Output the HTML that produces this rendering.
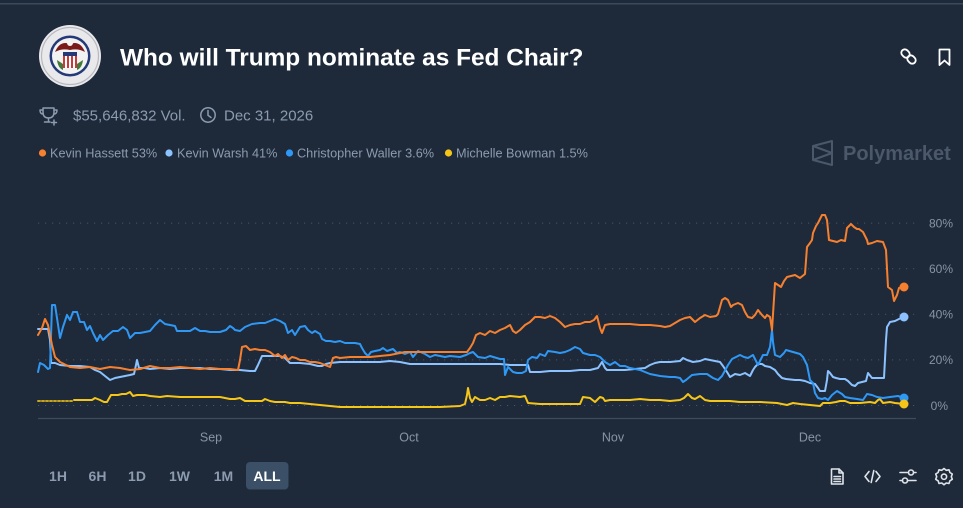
<!DOCTYPE html>
<html><head><meta charset="utf-8"><style>
html,body{margin:0;padding:0;background:#1e2a3a;}
body{width:963px;height:508px;overflow:hidden;position:relative;font-family:"Liberation Sans",Arial,sans-serif;}
svg{position:absolute;left:0;top:0;}
</style></head><body>
<svg width="963" height="508" viewBox="0 0 963 508" xmlns="http://www.w3.org/2000/svg" font-family="Liberation Sans, Arial, sans-serif">
<rect x="0" y="0" width="963" height="508" fill="#1e2a3a"/>
<rect x="0" y="3" width="963" height="1.5" fill="#3a4a5c"/>

<!-- logo -->
<g>
<circle cx="70" cy="56" r="31" fill="#e9e9ec"/>
<circle cx="70" cy="56" r="28.5" fill="none" stroke="#b8b9c0" stroke-width="1.2"/>
<circle cx="70" cy="56" r="20.5" fill="#243a78"/>
<circle cx="70" cy="56" r="18" fill="#f2f2f2"/>
<path d="M55 52 Q60 40 70 44 Q80 40 85 52 Q78 48 70 50 Q62 48 55 52Z" fill="#7a1a1a"/>
<circle cx="70" cy="43" r="3" fill="#f4f4f4"/>
<rect x="63" y="52" width="14" height="4" fill="#243a78"/>
<rect x="63" y="56" width="14" height="12" fill="#c83a3a"/>
<rect x="65" y="56" width="2" height="12" fill="#fff"/>
<rect x="69" y="56" width="2" height="12" fill="#fff"/>
<rect x="73" y="56" width="2" height="12" fill="#fff"/>
<path d="M57 60 Q58 68 63 70 L63 64Z" fill="#3f7a3a"/>
<path d="M83 60 Q82 68 77 70 L77 64Z" fill="#3f7a3a"/>
</g>

<text x="120" y="65.5" font-size="24.4" font-weight="bold" fill="#ffffff">Who will Trump nominate as Fed Chair?</text>

<!-- link icon -->
<g fill="none" stroke="#ffffff" stroke-width="1.8" stroke-linecap="round">
<rect x="901" y="50" width="9" height="7" rx="3.5" transform="rotate(45 905.5 53.5)"/>
<rect x="907" y="56" width="9" height="7" rx="3.5" transform="rotate(45 911.5 59.5)"/>
</g>
<!-- bookmark -->
<path d="M939.5 49.5 H949.5 V65 L944.5 60.5 L939.5 65 Z" fill="none" stroke="#ffffff" stroke-width="1.8" stroke-linejoin="round"/>

<!-- trophy -->
<g fill="none" stroke="#8c9bb0" stroke-width="1.5" stroke-linecap="round" stroke-linejoin="round">
<path d="M43 108 H54 V112 Q54 118 48.5 118 Q43 118 43 112 Z"/>
<path d="M43 110 H40 Q40 114 43 114"/>
<path d="M54 110 H57 Q57 114 54 114"/>
<path d="M48.5 118 V121 M44.5 122 H50"/>
<path d="M54 120 V125 M51.5 122.5 H56.5"/>
</g>
<text x="73" y="120.5" font-size="15" fill="#8c9bb0">$55,646,832 Vol.</text>
<!-- clock -->
<g fill="none" stroke="#8c9bb0" stroke-width="1.5" stroke-linecap="round">
<circle cx="208" cy="115" r="7.2"/>
<path d="M208 110.5 V115.3 L211 117.5"/>
</g>
<text x="224" y="120.5" font-size="15" fill="#8c9bb0">Dec 31, 2026</text>

<!-- legend -->
<g font-size="12.7" fill="#8c9bb0">
<circle cx="42.5" cy="153" r="3.6" fill="#f7802f"/>
<text x="50" y="157.5">Kevin Hassett 53%</text>
<circle cx="169" cy="153" r="3.6" fill="#8cc2ff"/>
<text x="177" y="157.5">Kevin Warsh 41%</text>
<circle cx="289.5" cy="153" r="3.6" fill="#2f98f5"/>
<text x="297" y="157.5">Christopher Waller 3.6%</text>
<circle cx="448.5" cy="153" r="3.6" fill="#f5c518"/>
<text x="456" y="157.5">Michelle Bowman 1.5%</text>
</g>

<!-- polymarket watermark -->
<g fill="none" stroke="#4b586a" stroke-width="2" stroke-linejoin="round">
<path d="M813 146 L832 141 V165 L813 160 Z"/>
<path d="M813 146 L832 153 L813 160"/>
</g>
<text x="843" y="160" font-size="20" font-weight="bold" fill="#4b586a">Polymarket</text>

<!-- grid -->
<g stroke="#46536a" stroke-width="1" stroke-dasharray="1.2 5.8">
<line x1="38" y1="223.1" x2="918" y2="223.1"/>
<line x1="38" y1="268.7" x2="918" y2="268.7"/>
<line x1="38" y1="314.3" x2="918" y2="314.3"/>
<line x1="38" y1="359.9" x2="918" y2="359.9"/>
<line x1="38" y1="405.5" x2="918" y2="405.5"/>
</g>
<line x1="38" y1="418.5" x2="916" y2="418.5" stroke="#3e4b5c" stroke-width="1.2"/>

<g font-size="12" fill="#8894a4" text-anchor="end">
<text x="953" y="227.5">80%</text>
<text x="953" y="273">60%</text>
<text x="953" y="318.5">40%</text>
<text x="953" y="364">20%</text>
<text x="948" y="410">0%</text>
</g>
<g font-size="12.5" fill="#8894a4" text-anchor="middle">
<text x="211" y="441.5">Sep</text>
<text x="409" y="441.5">Oct</text>
<text x="613" y="441.5">Nov</text>
<text x="810" y="441.5">Dec</text>
</g>

<!-- series -->
<g fill="none" stroke-width="2" stroke-linejoin="round" stroke-linecap="round">
<!-- yellow dotted -->
<line x1="38" y1="401" x2="74" y2="401" stroke="#c9a41a" stroke-width="2" stroke-dasharray="2 2"/>
<polyline stroke="#f5c518" points="74,400 92,400 95,398 100,400 104,402 107,402 111,395 118,395 122,394 126,394 130,392 133,396 137,395 145,395 150,396 160,397 167,396 180,397 190,397 200,397 210,397 220,397 225,398 230,399 235,399 240,398 245,401 255,401 262,401 265,399 270,401 275,402 285,402 290,403 300,403 310,404 320,405 330,406 340,407 360,407 380,407 400,407 420,407 440,407 460,406 465,404 467,395 468,388 470,398 472,402 475,397 480,400 485,400 490,398 495,400 500,397 505,397 510,396 520,397 525,396 528,403 540,404 560,404 580,404 583,397 590,398 595,402 600,397 603,398 605,401 610,400 620,400 630,400 640,399 650,400 660,400 670,401 680,400 684,398 688,394 692,398 695,399 700,396 705,400 710,401 720,401 730,401 740,402 760,402 777,403 787,405 793,403 800,404 810,405 820,406 823,403 830,403 836,402 840,401 845,401 850,403 860,403 870,402 875,403 878,400 880,399 883,403 890,402 895,403 904,404"/>
<!-- light blue Warsh -->
<polyline stroke="#8cc2ff" points="38,329 48,329 50,340 51,363 55,363 60,365 70,366 80,366 90,367 95,370 100,372 105,376 110,380 115,378 120,377 125,376 130,375 134,374 136,365 137,360 139,368 145,368 150,369 160,368 170,369 180,368 190,368 200,368 210,369 220,369 230,370 240,370 250,371 255,371 258,365 262,356 270,356 280,356 285,358 290,363 300,363 310,364 318,366 322,366 326,364 330,363 340,362 350,362 360,362 370,362 380,362 390,361 400,362 410,364 420,364 440,364 460,364 480,364 500,364 510,365 520,365 528,365 530,372 540,372 550,371 560,371 570,371 580,370 590,370 598,368 602,362 605,368 607,370 615,370 625,370 635,369 645,368 650,365 655,363 660,362 670,362 680,361 683,358 687,360 693,362 700,361 705,359 710,360 715,361 720,362 723,366 727,372 730,377 735,374 740,375 745,373 750,376 753,370 755,367 758,364 762,364 765,366 770,367 775,370 778,374 782,378 786,379 795,380 800,380 805,381 810,383 815,384 818,388 820,391 825,391 827,380 828,371 830,373 833,377 836,378 840,379 845,379 848,381 852,385 855,386 858,383 862,382 866,381 868,373 872,378 878,378 884,378 886,340 887,327 890,322 895,321 899,319 904,317"/>
<!-- blue Waller -->
<polyline stroke="#2f98f5" points="38,372 40,363 44,365 48,369 50,368 52,305 55,305 57,318 60,338 63,327 67,315 70,320 73,312 77,312 80,322 84,322 87,330 90,326 93,333 97,341 100,335 103,340 108,335 113,331 118,331 123,327 127,330 130,338 135,333 140,333 145,332 150,331 155,325 160,320 165,324 170,325 175,326 177,331 185,331 190,331 195,328 200,331 205,331 210,332 220,332 226,330 230,326 233,328 235,330 240,331 245,327 252,324 260,323 265,323 270,321 275,319 280,321 285,324 288,333 292,330 295,335 300,327 305,326 308,330 312,333 315,331 320,334 322,339 326,341 330,341 335,342 340,341 345,343 355,343 360,344 362,348 365,353 368,356 371,352 375,351 380,350 383,348 387,351 393,349 397,353 400,352 405,354 410,352 413,357 418,351 425,354 430,357 435,355 445,357 450,356 460,357 466,355 470,353 473,352 478,357 485,358 490,356 500,359 504,359 505,375 508,367 513,372 517,373 522,373 526,371 528,360 532,357 537,358 540,354 545,356 548,351 555,352 560,353 565,352 570,350 575,347 580,349 583,353 590,355 595,355 600,357 605,362 610,365 615,362 620,366 625,366 630,368 640,370 650,374 660,376 670,377 675,377 680,378 683,382 686,380 692,375 700,374 707,374 713,378 718,380 722,376 728,365 732,359 736,357 740,355 744,357 748,358 753,355 758,365 763,355 767,355 770,347 772,330 773,342 775,355 780,357 784,353 786,350 793,352 800,354 803,357 807,365 810,380 813,383 815,393 818,398 822,399 825,398 828,400 832,395 837,391 842,394 845,397 850,398 857,399 863,400 867,394 872,395 877,397 883,398 890,397 898,396 904,398"/>
<!-- orange Hassett -->
<polyline stroke="#f7802f" points="38,335 42,328 45,319 48,325 52,345 55,357 60,362 70,367 80,368 90,367 100,369 110,367 120,368 130,370 140,369 150,366 160,368 170,368 180,367 190,368 200,369 210,368 220,369 230,369 238,370 240,360 242,347 246,346 250,350 255,349 260,350 265,350 270,352 275,356 278,354 282,358 285,355 288,360 292,357 296,358 300,360 305,360 310,362 315,362 320,363 325,365 330,367 333,358 336,357 340,358 350,357 360,357 370,357 380,356 390,355 395,354 400,353 405,352 420,352 440,352 460,352 467,352 470,348 473,343 476,335 480,333 485,335 490,331 495,333 500,330 505,328 510,325 513,331 516,333 520,330 525,325 530,322 535,317 540,317 545,318 550,316 555,318 560,322 565,327 570,325 575,324 580,324 585,322 590,322 594,320 597,316 600,328 602,333 605,325 610,324 620,324 630,324 640,325 650,325 660,326 665,327 670,326 675,323 680,320 685,318 690,317 695,322 700,318 705,315 710,317 716,316 718,314 722,300 725,298 728,300 731,307 733,305 738,303 742,305 745,312 748,317 752,318 755,315 758,310 762,315 765,318 767,315 770,317 772,330 775,283 778,285 781,287 784,281 787,277 791,276 795,275 800,278 805,274 807,247 810,243 812,240 813,233 816,226 818,223 822,215 825,215 827,220 829,240 833,241 837,242 841,240 845,241 847,228 851,224 854,227 857,229 859,229 863,232 867,240 868,244 872,243 877,241 883,242 886,250 888,287 892,290 894,301 897,295 899,288 904,287"/>
</g>
<circle cx="904" cy="398" r="4.5" fill="#2f98f5"/>
<circle cx="904" cy="317" r="4.5" fill="#8cc2ff"/>
<circle cx="904" cy="287" r="4.5" fill="#f7802f"/>
<circle cx="904" cy="404" r="4.5" fill="#f5c518"/>

<!-- time buttons -->
<g font-size="14" fill="#8c9bb0" font-weight="bold" text-anchor="middle">
<text x="58" y="481">1H</text>
<text x="97.5" y="481">6H</text>
<text x="137" y="481">1D</text>
<text x="179.5" y="481">1W</text>
<text x="223.5" y="481">1M</text>
</g>
<rect x="246" y="462" width="42.5" height="27.5" rx="4" fill="#3b4f66"/>
<text x="267" y="481" font-size="14" font-weight="bold" fill="#ffffff" text-anchor="middle">ALL</text>

<!-- bottom right icons -->
<g fill="none" stroke="#dfe4ea" stroke-width="1.6" stroke-linecap="round" stroke-linejoin="round">
<path d="M831.5 469 H839 L843 473 V484 H831.5 Z"/>
<path d="M839 469 V473 H843"/>
<path d="M834 476.5 H840.5 M834 479 H840.5 M834 481.5 H840.5"/>
<path d="M869 471.5 L865 476.5 L869 481.5"/>
<path d="M876 471.5 L880 476.5 L876 481.5"/>
<path d="M873.8 470.5 L871.2 482.5"/>
<path d="M900 472.5 H916 M900 480.5 H916"/>
<circle cx="911" cy="472.5" r="2.5" fill="#1e2a3a"/>
<circle cx="905" cy="480.5" r="2.5" fill="#1e2a3a"/>
<path d="M944 468.5 L946.2 470.3 L949 469.8 L949.9 472.5 L952.3 474 L951.3 476.7 L952.3 479.3 L949.9 480.8 L949 483.5 L946.2 483 L944 484.8 L941.8 483 L939 483.5 L938.1 480.8 L935.7 479.3 L936.7 476.7 L935.7 474 L938.1 472.5 L939 469.8 L941.8 470.3 Z"/>
<circle cx="944" cy="476.7" r="2.6"/>
</g>
</svg>
</body></html>
